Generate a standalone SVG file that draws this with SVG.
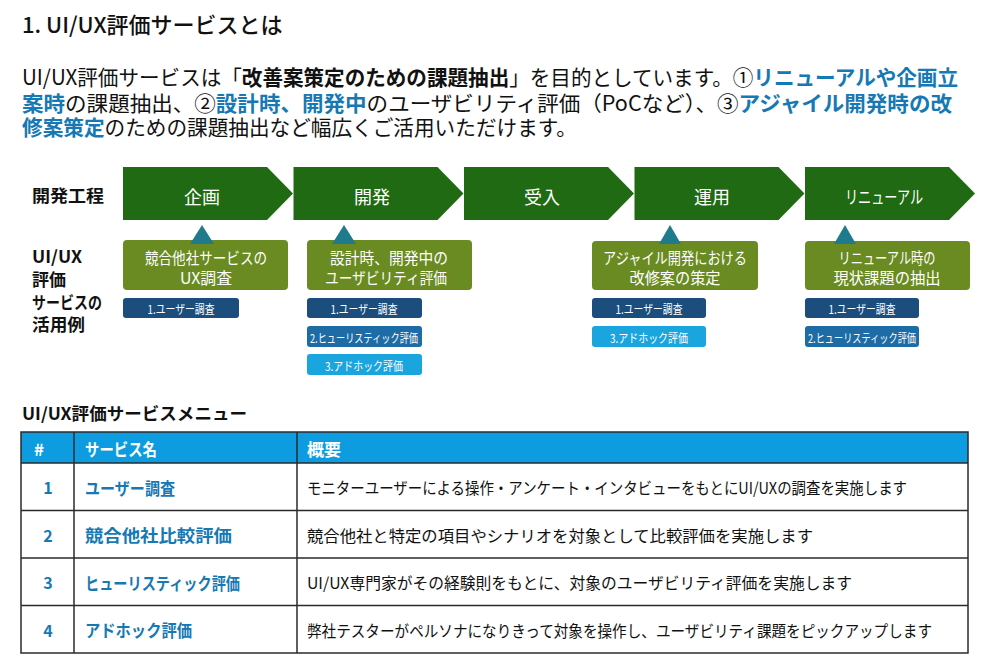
<svg xmlns="http://www.w3.org/2000/svg" width="997" height="671" viewBox="0 0 997 671">
<defs>
<style>
text{font-family:"Noto Sans CJK JP","Noto Sans",sans-serif;dominant-baseline:central}
.t{font-size:22px;font-weight:500;fill:#111}
.p{font-size:21px;fill:#111}
.b{font-weight:700}
.bl{font-weight:700;fill:#1679b3}
.lab{font-size:17px;font-weight:700;fill:#111}
.phase{fill:#1f6a12}
.pl{font-size:18px;fill:#fff;text-anchor:middle}
.box{fill:#6a8b22}
.bt{font-size:15.5px;fill:#fff;text-anchor:middle}
.tri{fill:#1f7b8c}
.tag{font-size:12px;fill:#fff;text-anchor:middle}
.t1{fill:#1b4e7d}
.t2{fill:#1d6ca5}
.t3{fill:#1ba5df}
.hd{fill:#0e9ce0}
.ht{font-size:17px;font-weight:700;fill:#fff}
.num{font-size:16px;font-weight:700;fill:#1679b3;text-anchor:middle}
.sn{font-size:17px;font-weight:700;fill:#1679b3}
.ds{font-size:16px;fill:#111}
.grid{stroke:#2b2b2b;stroke-width:1.5;fill:none}
</style>
</defs>
<rect width="997" height="671" fill="#fff"/>

<g id="title"><text class="t" x="22" y="23">1. UI/UX評価サービスとは</text></g>

<g id="intro">
<text class="p" x="22" y="76" textLength="936" lengthAdjust="spacingAndGlyphs">UI/UX評価サービスは「<tspan class="b">改善案策定のための課題抽出</tspan>」を目的としています。①<tspan class="bl">リニューアルや企画立</tspan></text>
<text class="p" x="22" y="101.5" textLength="930" lengthAdjust="spacingAndGlyphs"><tspan class="bl">案時</tspan>の課題抽出、②<tspan class="bl">設計時、開発中</tspan>のユーザビリティ評価（PoCなど）、③<tspan class="bl">アジャイル開発時の改</tspan></text>
<text class="p" x="22" y="126" textLength="555" lengthAdjust="spacingAndGlyphs"><tspan class="bl">修案策定</tspan>のための課題抽出など幅広くご活用いただけます。</text>
</g>

<g id="label-process"><text class="lab" x="32" y="194" textLength="72" lengthAdjust="spacingAndGlyphs">開発工程</text></g>
<g id="label-usage">
<text class="lab" x="32" y="255" textLength="50" lengthAdjust="spacingAndGlyphs">UI/UX</text>
<text class="lab" x="32" y="278.5">評価</text>
<text class="lab" x="32" y="301" textLength="70" lengthAdjust="spacingAndGlyphs">サービスの</text>
<text class="lab" x="32" y="323" textLength="53" lengthAdjust="spacingAndGlyphs">活用例</text>
</g>

<g id="phase-kikaku"><path class="phase" d="M123,167H267L293,193.5L267,220H123Z"/><text class="pl" x="202" y="196">企画</text></g>
<g id="phase-kaihatsu"><path class="phase" d="M293.5,167H437.5L463.5,193.5L437.5,220H293.5Z"/><text class="pl" x="372" y="196">開発</text></g>
<g id="phase-ukeire"><path class="phase" d="M464,167H608L634,193.5L608,220H464Z"/><text class="pl" x="542" y="196">受入</text></g>
<g id="phase-unyo"><path class="phase" d="M634.5,167H778.5L804.5,193.5L778.5,220H634.5Z"/><text class="pl" x="712" y="196">運用</text></g>
<g id="phase-renewal"><path class="phase" d="M805,167H949L975,193.5L949,220H805Z"/><text class="pl" x="884" y="196" textLength="78" lengthAdjust="spacingAndGlyphs">リニューアル</text></g>

<g id="case-kikaku">
<rect class="box" x="123" y="240" width="165" height="50" rx="4"/>
<text class="bt" x="206" y="257" textLength="122" lengthAdjust="spacingAndGlyphs">競合他社サービスの</text>
<text class="bt" x="206" y="276.5" textLength="52" lengthAdjust="spacingAndGlyphs">UX調査</text>
</g>
<g id="case-kaihatsu">
<rect class="box" x="307" y="240" width="165" height="50" rx="4"/>
<text class="bt" x="389" y="257" textLength="118" lengthAdjust="spacingAndGlyphs">設計時、開発中の</text>
<text class="bt" x="386" y="276.5" textLength="122" lengthAdjust="spacingAndGlyphs">ユーザビリティ評価</text>
</g>
<g id="case-unyo">
<rect class="box" x="592" y="241" width="166" height="49" rx="4"/>
<text class="bt" x="675" y="257" textLength="144" lengthAdjust="spacingAndGlyphs">アジャイル開発における</text>
<text class="bt" x="675" y="276.5" textLength="91" lengthAdjust="spacingAndGlyphs">改修案の策定</text>
</g>
<g id="case-renewal">
<rect class="box" x="805" y="241" width="165" height="49" rx="4"/>
<text class="bt" x="887" y="257" textLength="97" lengthAdjust="spacingAndGlyphs">リニューアル時の</text>
<text class="bt" x="887" y="276.5" textLength="107" lengthAdjust="spacingAndGlyphs">現状課題の抽出</text>
</g>

<g id="connectors">
<path class="tri" d="M202,225L214,244H190Z"/>
<path class="tri" d="M344,225L356,244H332Z"/>
<path class="tri" d="M670,225L681,244H659Z"/>
<path class="tri" d="M845,225L856,244H834Z"/>
</g>

<g id="tags-kikaku">
<rect class="t1" x="123" y="298" width="116" height="20" rx="3"/><text class="tag" x="181" y="308.5" textLength="67" lengthAdjust="spacingAndGlyphs">1.ユーザー調査</text>
</g>
<g id="tags-kaihatsu">
<rect class="t1" x="307" y="298" width="115" height="20" rx="3"/><text class="tag" x="364" y="308.5" textLength="67" lengthAdjust="spacingAndGlyphs">1.ユーザー調査</text>
<rect class="t2" x="307" y="326" width="115" height="21" rx="3"/><text class="tag" x="364" y="337" textLength="108" lengthAdjust="spacingAndGlyphs">2.ヒューリスティック評価</text>
<rect class="t3" x="307" y="354" width="115" height="21" rx="3"/><text class="tag" x="364" y="365" textLength="78" lengthAdjust="spacingAndGlyphs">3.アドホック評価</text>
</g>
<g id="tags-unyo">
<rect class="t1" x="592" y="298" width="114" height="20" rx="3"/><text class="tag" x="649" y="308.5" textLength="67" lengthAdjust="spacingAndGlyphs">1.ユーザー調査</text>
<rect class="t3" x="592" y="326" width="114" height="21" rx="3"/><text class="tag" x="649" y="337" textLength="78" lengthAdjust="spacingAndGlyphs">3.アドホック評価</text>
</g>
<g id="tags-renewal">
<rect class="t1" x="805" y="298" width="114" height="20" rx="3"/><text class="tag" x="862" y="308.5" textLength="67" lengthAdjust="spacingAndGlyphs">1.ユーザー調査</text>
<rect class="t2" x="805" y="326" width="114" height="21" rx="3"/><text class="tag" x="862" y="337" textLength="108" lengthAdjust="spacingAndGlyphs">2.ヒューリスティック評価</text>
</g>

<g id="menu-heading"><text class="lab" x="22" y="412" textLength="225" lengthAdjust="spacingAndGlyphs">UI/UX評価サービスメニュー</text></g>

<g id="menu-table">
<rect class="hd" x="21" y="432" width="947" height="31"/>
<text class="ht" x="34" y="448.5">#</text>
<text class="ht" x="85" y="448.5" textLength="72" lengthAdjust="spacingAndGlyphs">サービス名</text>
<text class="ht" x="307" y="448.5">概要</text>
<rect class="grid" x="21" y="432" width="947" height="221"/>
<path class="grid" d="M21,463H968M21,510.5H968M21,558H968M21,605.5H968M74,432V653M297,432V653"/>
<text class="num" x="48" y="487">1</text>
<text class="sn" x="85" y="487" textLength="90" lengthAdjust="spacingAndGlyphs">ユーザー調査</text>
<text class="ds" x="307" y="487" textLength="600" lengthAdjust="spacingAndGlyphs">モニターユーザーによる操作・アンケート・インタビューをもとにUI/UXの調査を実施します</text>
<text class="num" x="48" y="534.5">2</text>
<text class="sn" x="85" y="534.5" textLength="147" lengthAdjust="spacingAndGlyphs">競合他社比較評価</text>
<text class="ds" x="307" y="534.5" textLength="506" lengthAdjust="spacingAndGlyphs">競合他社と特定の項目やシナリオを対象として比較評価を実施します</text>
<text class="num" x="48" y="582">3</text>
<text class="sn" x="85" y="582" textLength="155" lengthAdjust="spacingAndGlyphs">ヒューリスティック評価</text>
<text class="ds" x="307" y="582" textLength="545" lengthAdjust="spacingAndGlyphs">UI/UX専門家がその経験則をもとに、対象のユーザビリティ評価を実施します</text>
<text class="num" x="48" y="629.5">4</text>
<text class="sn" x="85" y="629.5" textLength="107" lengthAdjust="spacingAndGlyphs">アドホック評価</text>
<text class="ds" x="307" y="629.5" textLength="625" lengthAdjust="spacingAndGlyphs">弊社テスターがペルソナになりきって対象を操作し、ユーザビリティ課題をピックアップします</text>
</g>
</svg>
